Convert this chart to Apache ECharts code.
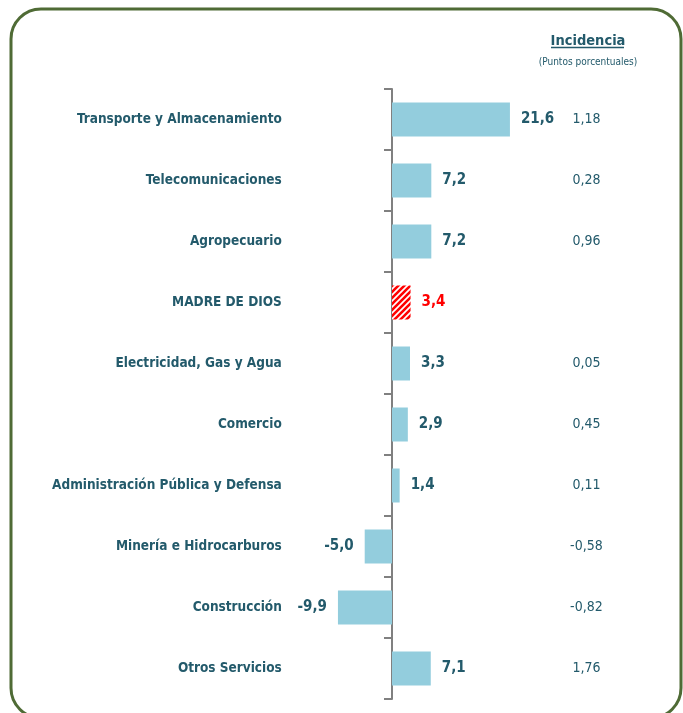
<!DOCTYPE html>
<html>
<head>
<meta charset="utf-8">
<script src="https://cdn.jsdelivr.net/npm/echarts@6/dist/echarts.min.js"></script>
<style>
  html, body { margin: 0; padding: 0; background: #ffffff; }
  #chart { width: 683px; height: 713px; }
</style>
</head>
<body>
<div id="chart"></div>
<script>
// Sector growth (%) and contribution to regional growth (percentage points)
const categories = [
  'Transporte y Almacenamiento',
  'Telecomunicaciones',
  'Agropecuario',
  'MADRE DE DIOS',
  'Electricidad, Gas y Agua',
  'Comercio',
  'Administración Pública y Defensa',
  'Minería e Hidrocarburos',
  'Construcción',
  'Otros Servicios'
];
const growth = [21.6, 7.2, 7.2, 3.4, 3.3, 2.9, 1.4, -5.0, -9.9, 7.1];
const incidence = ['1,18', '0,28', '0,96', '', '0,05', '0,45', '0,11', '-0,58', '-0,82', '1,76'];
const totalLabel = 'MADRE DE DIOS';

const FONT = "'DejaVu Sans Condensed', 'Liberation Sans Narrow', sans-serif";
const TEAL = '#235a6b';
const BAR = '#93cddd';
const RED = '#ff0000';
const AXIS = '#808080';

// Red/white diagonal hatch used for the regional total bar
function hatchPattern() {
  const c = document.createElement('canvas');
  c.width = 6; c.height = 6;
  const ctx = c.getContext('2d');
  ctx.fillStyle = '#ffffff';
  ctx.fillRect(0, 0, 6, 6);
  ctx.strokeStyle = RED;
  ctx.lineWidth = 2.6;
  ctx.beginPath();
  for (let k = -6; k <= 12; k += 6) {
    ctx.moveTo(k - 1, 7);
    ctx.lineTo(k + 7, -1);
  }
  ctx.stroke();
  return c;
}
const hatch = hatchPattern();

const fmt = v => v.toFixed(1).replace('.', ',');

const barData = growth.map((v, i) => {
  const isTotal = categories[i] === totalLabel;
  return {
    value: v,
    itemStyle: { color: isTotal ? { image: hatch, repeat: 'repeat' } : BAR },
    label: {
      position: v < 0 ? 'left' : 'right',
      color: isTotal ? RED : TEAL
    }
  };
});

const chart = echarts.init(document.getElementById('chart'), null, { renderer: 'canvas' });
chart.setOption({
  animation: false,
  backgroundColor: '#ffffff',
  title: {
    text: 'Incidencia',
    subtext: '(Puntos porcentuales)',
    left: 583,
    top: 29,
    textAlign: 'center',
    itemGap: 8,
    textStyle: { fontFamily: FONT, fontSize: 14.5, fontWeight: 'bold', color: TEAL },
    subtextStyle: { fontFamily: FONT, fontSize: 10, color: TEAL }
  },
  graphic: [
    {
      type: 'rect',
      silent: true,
      shape: { x: 11, y: 9, width: 670, height: 709, r: 30 },
      style: { fill: 'none', stroke: '#4f6b35', lineWidth: 3 }
    },
    {
      type: 'line',
      silent: true,
      shape: { x1: 551, y1: 47.5, x2: 624, y2: 47.5 },
      style: { stroke: TEAL, lineWidth: 1.5 }
    }
  ],
  grid: { left: 282.8, width: 327.6, top: 89, height: 610, outerBoundsMode: 'none', containLabel: false },
  xAxis: {
    type: 'value',
    min: -20,
    max: 40,
    show: false
  },
  yAxis: [
    {
      type: 'category',
      data: categories,
      inverse: true,
      axisLine: { onZero: true, lineStyle: { color: AXIS, width: 2 } },
      axisTick: { show: true, length: 8, lineStyle: { color: AXIS, width: 2 } },
      axisLabel: {
        margin: 1,
        fontFamily: FONT,
        fontSize: 13.5,
        fontWeight: 'bold',
        color: TEAL
      },
      splitLine: { show: false }
    },
    {
      type: 'category',
      data: incidence,
      inverse: true,
      position: 'right',
      axisLine: { show: false },
      axisTick: { show: false },
      axisLabel: {
        inside: true,
        margin: 24,
        align: 'center',
        fontFamily: FONT,
        fontSize: 14,
        color: TEAL
      },
      splitLine: { show: false }
    }
  ],
  series: [
    {
      type: 'bar',
      yAxisIndex: 0,
      data: barData,
      barWidth: 34,
      label: {
        show: true,
        distance: 11,
        fontFamily: FONT,
        fontSize: 15,
        fontWeight: 'bold',
        formatter: p => fmt(p.value)
      }
    }
  ]
});
</script>
</body>
</html>
